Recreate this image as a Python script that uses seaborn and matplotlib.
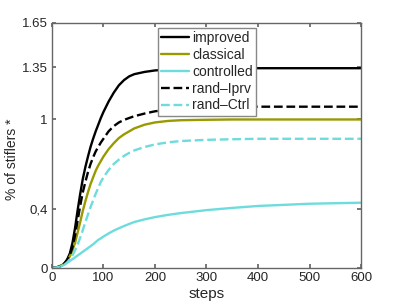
import numpy as np
import pandas as pd
import matplotlib
matplotlib.use("Agg")
import matplotlib.pyplot as plt
import seaborn as sns

steps = [0, 10, 20, 25, 30, 35, 40, 45, 50, 55, 60, 65, 70, 75, 80, 85, 90, 95, 100,
         110, 120, 130, 140, 150, 160, 180, 200, 225, 250, 300, 350, 400, 500, 600]
improved = [0, 0.005, 0.02, 0.035, 0.06, 0.10, 0.17, 0.27, 0.39, 0.50, 0.60, 0.68, 0.75, 0.815, 0.87, 0.92, 0.965, 1.01, 1.05,
            1.12, 1.18, 1.23, 1.265, 1.29, 1.305, 1.32, 1.33, 1.336, 1.34, 1.343, 1.345, 1.345, 1.345, 1.345]
classical = [0, 0.005, 0.02, 0.03, 0.05, 0.08, 0.12, 0.17, 0.24, 0.31, 0.385, 0.45, 0.51, 0.565, 0.61, 0.655, 0.69, 0.72, 0.75,
             0.80, 0.84, 0.875, 0.90, 0.92, 0.94, 0.965, 0.98, 0.99, 0.995, 0.998, 1.0, 1.0, 1.0, 1.0]
controlled = [0, 0.005, 0.015, 0.025, 0.037, 0.048, 0.06, 0.072, 0.085, 0.097, 0.11, 0.122, 0.135, 0.147, 0.16, 0.175, 0.19, 0.20, 0.212,
              0.233, 0.252, 0.268, 0.283, 0.297, 0.31, 0.328, 0.343, 0.358, 0.37, 0.39, 0.405, 0.418, 0.433, 0.44]
rand_iprv = [0, 0.005, 0.02, 0.033, 0.055, 0.09, 0.14, 0.22, 0.32, 0.42, 0.51, 0.58, 0.645, 0.70, 0.745, 0.785, 0.815, 0.845, 0.87,
             0.92, 0.955, 0.98, 0.997, 1.01, 1.022, 1.04, 1.055, 1.066, 1.073, 1.081, 1.085, 1.086, 1.086, 1.086]
rand_ctrl = [0, 0.005, 0.015, 0.025, 0.04, 0.06, 0.085, 0.12, 0.16, 0.205, 0.255, 0.31, 0.36, 0.41, 0.455, 0.50, 0.54, 0.58, 0.61,
             0.66, 0.70, 0.73, 0.755, 0.775, 0.792, 0.815, 0.832, 0.846, 0.855, 0.863, 0.867, 0.87, 0.87, 0.87]

series_names = ["improved", "classical", "controlled", "rand\u2013Iprv", "rand\u2013Ctrl"]
series_vals = [improved, classical, controlled, rand_iprv, rand_ctrl]
colors = ["#000000", "#999900", "#6edcdc", "#000000", "#6edcdc"]
dashes = ["-", "-", "-", "--", "--"]

yticks = [0, 0.4, 1, 1.35, 1.65]
ytick_labels = ["0", "0,4", "1", "1.35", "1.65"]
xticks = [0, 100, 200, 300, 400, 500, 600]

sns.set_theme(style="white")
plt.rcParams['font.family'] = ['Liberation Sans', 'DejaVu Sans']

fig = plt.figure(figsize=(3.99, 3.05), dpi=100)
ax = fig.add_axes([0.130, 0.121, 0.775, 0.804])

for name, vals, c, ls in zip(series_names, series_vals, colors, dashes):
    df = pd.DataFrame({"steps": steps, "val": vals})
    sns.lineplot(data=df, x="steps", y="val", ax=ax, color=c, linestyle=ls,
                 linewidth=1.7, label=name)

ax.set_xlim(0, 600)
ax.set_ylim(0, 1.65)
ax.set_xticks(xticks)
ax.set_xticklabels([str(t) for t in xticks], fontsize=9.5)
ax.set_yticks(yticks)
ax.set_yticklabels(ytick_labels, fontsize=9.5)
ax.set_xlabel("steps", fontsize=11, labelpad=2)
ax.set_ylabel("% of stiflers *", fontsize=10)
ax.yaxis.set_label_coords(-0.105, 0.445)
ax.tick_params(direction="in", length=3, top=True, right=True, bottom=True, left=True,
               color="#666666", pad=3)
for s in ax.spines.values():
    s.set_color("#666666")
    s.set_linewidth(1.0)

leg = ax.legend(loc="upper left", bbox_to_anchor=(0.343, 0.98), fontsize=10,
                frameon=True, fancybox=False, edgecolor="#888888", framealpha=1,
                handlelength=2.0, handletextpad=0.2, borderpad=0.25, labelspacing=0.2,
                borderaxespad=0)
leg.get_frame().set_linewidth(1.0)

fig.savefig("out.png", dpi=100)
